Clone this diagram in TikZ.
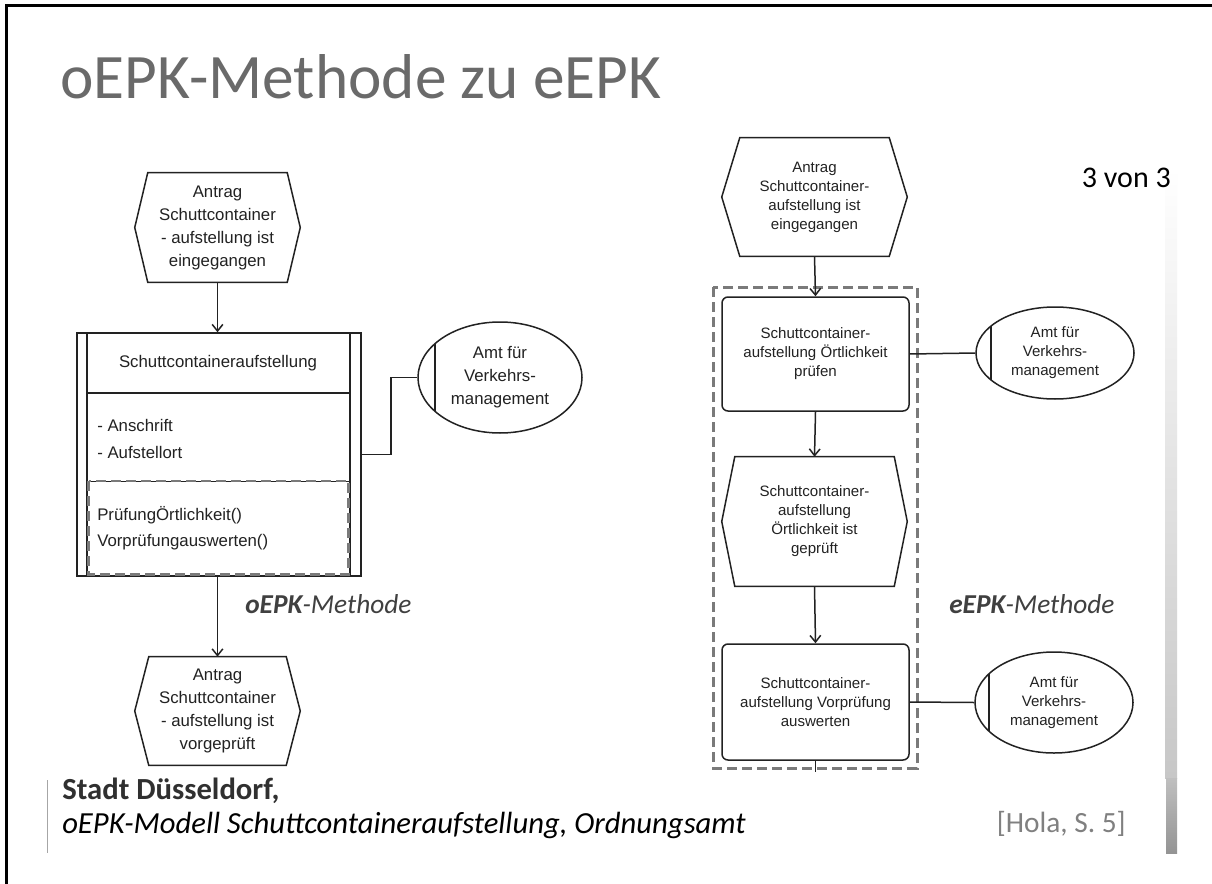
\documentclass[tikz,border=0pt]{standalone}
\usepackage{fontspec}
\setmainfont{Carlito}
\newfontfamily\diag{Liberation Sans}
\usetikzlibrary{arrows.meta,shapes.geometric,calc}
\newdimen\px \px=0.75pt
\definecolor{titlegray}{HTML}{6A6A6A}
\definecolor{labgray}{HTML}{404040}
\definecolor{footgray}{HTML}{303030}
\definecolor{refgray}{HTML}{808080}
\definecolor{dashgray}{HTML}{7A7A7A}
\definecolor{linecol}{HTML}{222222}
\newcommand{\hexa}[2]{\draw[shapeline] ([xshift=#2\px]#1.north west) -- ([xshift=-#2\px]#1.north east) -- (#1.east) -- ([xshift=-#2\px]#1.south east) -- ([xshift=#2\px]#1.south west) -- (#1.west) -- cycle;}
\begin{document}
\begin{tikzpicture}[x=0.75pt,y=-0.75pt,
  shapeline/.style={draw=linecol,line width=1.5\px},
  conn/.style={draw=linecol,line width=1.5\px},
  arr/.style={conn,-{Straight Barb[length=5pt,width=8pt]}},
  bigtxt/.style={font=\diag\fontsize{12.6}{17.25}\selectfont,text=linecol},
  smalltxt/.style={font=\diag\fontsize{11.3}{14.25}\selectfont,text=linecol},
  evL/.style={bigtxt,align=center,inner sep=0pt,minimum width=165\px},
  evR/.style={smalltxt,align=center,inner sep=0pt,minimum width=185\px},
  fnR/.style={smalltxt,shapeline,rounded corners=4.5pt,align=center,inner sep=0pt,minimum width=187\px},
  orgL/.style={bigtxt,shapeline,ellipse,align=center,inner sep=0pt,minimum width=164\px,minimum height=111\px},
  orgR/.style={smalltxt,shapeline,ellipse,align=center,inner sep=0pt,minimum width=158\px},
  grp/.style={draw=dashgray,line width=3\px,dash pattern=on 10\px off 5\px},
  methlabel/.style={font=\fontsize{20.5}{24}\selectfont\itshape,text=labgray,inner sep=0pt}
]
\useasboundingbox (0,0) rectangle (1212,884);
\fill[white] (0,0) rectangle (1212,884);
% frame
\draw[black,line width=3\px] (6,884) -- (6,6) -- (1212,6);
% gradient bar
\shade[top color=white,bottom color=black!22] (1165,168) rectangle (1177,778);
\shade[top color=black!25,bottom color=black!42] (1166,778) rectangle (1177,853);
% title
\node[anchor=base west,inner sep=0pt,font=\fontsize{47.5}{50}\selectfont,text=titlegray] (title) at (60,99) {oEPK-Methode zu eEPK};
\node[anchor=base east,inner sep=0pt,font=\fontsize{22.5}{26}\selectfont,text=black] (page) at (1171,188) {3 von 3};

% ---------------- left: oEPK
\node[evL,minimum height=109\px] (e1) at (217.5,227.5) {Antrag\\Schuttcontainer\\- aufstellung ist\\eingegangen};
\hexa{e1}{13}
\node[shapeline,inner sep=0pt,minimum width=284\px,minimum height=243\px] (cls) at (219,454.5) {};
\draw[shapeline] (87,333) -- (87,576) (350,333) -- (350,576) (87,393) -- (350,393);
\draw[linecol,line width=1\px] (87,481) -- (350,481);
\draw[grp,line width=2.5\px] (88.5,481) rectangle (348.5,574.5);
\node[bigtxt,inner sep=0pt] (clsname) at (218,363) {Schuttcontaineraufstellung};
\node[bigtxt,anchor=west,inner sep=0pt] (att1) at (97,425) {- Anschrift};
\node[bigtxt,anchor=west,inner sep=0pt] (att2) at (97,452) {- Aufstellort};
\node[bigtxt,anchor=west,inner sep=0pt] (m1) at (97,515) {PrüfungÖrtlichkeit()};
\node[bigtxt,anchor=west,inner sep=0pt] (m2) at (97,542) {Vorprüfungauswerten()};
\node[orgL] (amt1) at (500,377.5) {Amt für\\Verkehrs-\\management};
\draw[shapeline] (435,344) -- (435,411);
\node[evL,minimum height=108\px] (e4) at (217.5,711) {Antrag\\Schuttcontainer\\- aufstellung ist\\vorgeprüft};
\hexa{e4}{14}
\draw[arr] (e1.south) -- (e1.south |- cls.north);
\draw[arr] (e4.north |- cls.south) -- (e4.north);
\draw[conn] (cls.east) -- ++(29,0) |- (amt1.west);
\node[methlabel,anchor=base west] (lab1) at (245,613) {\textbf{oEPK}-Methode};

% ---------------- right: eEPK
\draw[grp] (713,287) rectangle (917,768);
\node[evR,minimum height=118\px] (e2) at (814.5,197) {Antrag\\Schuttcontainer-\\aufstellung ist\\eingegangen};
\hexa{e2}{18}
\node[fnR,minimum height=114\px] (f1) at (815.5,354) {Schuttcontainer-\\aufstellung Örtlichkeit\\prüfen};
\node[evR,minimum height=129\px] (e3) at (814.5,521.5) {Schuttcontainer-\\aufstellung\\Örtlichkeit ist\\geprüft};
\hexa{e3}{13}
\node[fnR,minimum height=116\px] (f2) at (815.5,702) {Schuttcontainer-\\aufstellung Vorprüfung\\auswerten};
\coordinate (out) at (815.5,772);
\node[orgR,minimum height=92\px] (amt2) at (1055,353) {Amt für\\Verkehrs-\\management};
\draw[shapeline] (991,326) -- (991,380);
\node[orgR,minimum height=101\px] (amt3) at (1054,702.5) {Amt für\\Verkehrs-\\management};
\draw[shapeline] (989,674) -- (989,731);
\draw[arr] (e2.south) -- (f1.north);
\draw[arr] (f1.south) -- (e3.north);
\draw[arr] (e3.south) -- (f2.north);
\draw[conn] (f2.south) -- (out);
\draw[conn] (f1.east) -- (amt2.west);
\draw[conn] (f2.east) -- (amt3.west);
\node[methlabel,anchor=base west] (lab2) at (949,613) {\textbf{eEPK}-Methode};

% ---------------- footer
\draw[black!35,line width=1\px] (47,780) -- (47,853);
\node[anchor=base west,inner sep=0pt,font=\fontsize{23}{26}\selectfont\bfseries,text=footgray] (src1) at (62,799) {Stadt Düsseldorf,};
\node[anchor=base west,inner sep=0pt,font=\fontsize{23}{26}\selectfont\itshape,text=black] (src2) at (62,833) {oEPK-Modell Schuttcontaineraufstellung, Ordnungsamt};
\node[anchor=base east,inner sep=0pt,font=\fontsize{22}{26}\selectfont,text=refgray] (ref) at (1126,832) {[Hola, S. 5]};
\end{tikzpicture}
\end{document}
